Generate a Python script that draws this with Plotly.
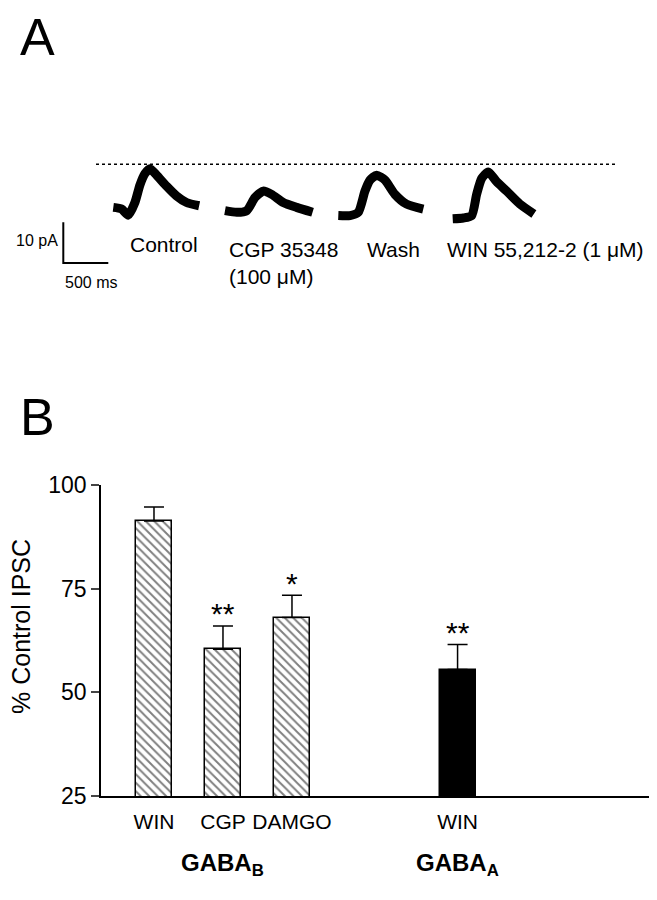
import plotly.graph_objects as go

W, H = 657, 900
FONT = "Liberation Sans, Arial, sans-serif"

# panel B data
categories = ["WIN", "CGP", "DAMGO", "WIN"]
pct_control = [91.3, 60.4, 68.0, 55.5]
sem = [3.4, 5.6, 5.4, 6.0]
signif = ["", "**", "*", "**"]
groups = ["GABA<sub>B</sub>", "GABA<sub>A</sub>"]

# panel A traces: time (ms from trace start) and current (pA, relative to dotted line)
control_t = [0, 93, 167, 240, 296, 352, 407, 481, 592, 703, 814, 954]
control_i = [-10.7, -11.1, -12.6, -9.5, -5.2, -2.4, -1.2, -2.8, -5.5, -7.9, -9.5, -10.3]
cgp_t = [0, 130, 241, 333, 425, 518, 647, 796, 973]
cgp_i = [-11.5, -11.9, -11.5, -8.3, -6.7, -7.5, -9.5, -10.7, -11.9]
wash_t = [0, 130, 222, 296, 352, 426, 518, 629, 759, 944]
wash_i = [-12.7, -12.7, -11.9, -6.7, -4.0, -2.8, -4.0, -7.5, -9.9, -11.1]
win_t = [0, 118, 211, 266, 322, 395, 488, 599, 747, 902]
win_i = [-13.5, -13.3, -12.7, -7.5, -3.6, -2.0, -4.4, -6.7, -9.9, -12.3]
scale_pa, scale_ms = 10, 500

# the page puts the figure 8px in from the top-left corner
OFF = 8

def px(x):
    return (x - OFF) / W

def py(y):
    return 1 - (y - OFF) / H

MS_PER_PX = 500 / 45.0
PA_PER_PX = 10 / 42.0
bar_x = [0, 1, 2, 4.4]
group_x = [1, 4.4]

fig = go.Figure()

# ---- panel B bars
fig.add_trace(go.Bar(
    x=bar_x[:3], y=pct_control[:3], width=0.52, base=0,
    marker=dict(color="white", line=dict(color="black", width=1.5),
                pattern=dict(shape="\\", fgcolor="black", bgcolor="white",
                             size=6, solidity=0.32)),
    error_y=dict(type="data", symmetric=False, array=sem[:3], arrayminus=[0] * 3,
                 color="black", thickness=1.5, width=10),
    showlegend=False, hoverinfo="skip"))
fig.add_trace(go.Bar(
    x=bar_x[3:], y=pct_control[3:], width=0.52, base=0,
    marker=dict(color="black", line=dict(color="black", width=1.5)),
    error_y=dict(type="data", symmetric=False, array=sem[3:], arrayminus=[0],
                 color="black", thickness=1.5, width=10),
    showlegend=False, hoverinfo="skip"))

for xv, m, e, s in zip(bar_x, pct_control, sem, signif):
    if s:
        fig.add_annotation(x=xv, y=m + e, xref="x", yref="y", text=s, showarrow=False,
                           xanchor="center", yanchor="middle", yshift=12,
                           font=dict(size=30, color="black"))

for gx, g in zip(group_x, groups):
    fig.add_annotation(x=gx, y=py(877), xref="x", yref="paper", text="<b>" + g + "</b>",
                       showarrow=False, xanchor="center", yanchor="middle",
                       font=dict(size=24, color="black"))

fig.add_annotation(x=px(21), y=py(632), xref="paper", yref="paper", text="% Control IPSC",
                   textangle=-90, showarrow=False, xanchor="center", yanchor="middle",
                   font=dict(size=25, color="black"))

# ---- panel A traces
starts_px = [113.3, 225.0, 338.3, 452.7]
for st, t, i in zip(starts_px, [control_t, cgp_t, wash_t, win_t],
                    [control_i, cgp_i, wash_i, win_i]):
    fig.add_trace(go.Scatter(
        x=[st * MS_PER_PX + v for v in t], y=i, xaxis="x2", yaxis="y2",
        mode="lines", line=dict(color="black", width=9, shape="spline", smoothing=0.6),
        showlegend=False, hoverinfo="skip"))

# scale bar
sx0 = 63.3 * MS_PER_PX
sy0 = -(257.3 - 155) * PA_PER_PX
fig.add_trace(go.Scatter(
    x=[sx0, sx0, sx0 + scale_ms], y=[sy0 + scale_pa, sy0, sy0],
    xaxis="x2", yaxis="y2", mode="lines", line=dict(color="black", width=2),
    showlegend=False, hoverinfo="skip"))

fig.add_shape(type="line", xref="paper", yref="paper", x0=px(96), x1=px(618),
              y0=py(155.5), y1=py(155.5), line=dict(color="black", width=1.5, dash="dot"))

labels_a = [
    ("Control", 128.3, 238),
    ("CGP 35348<br>(100 μM)", 226.7, 257.5),
    ("Wash", 365, 243),
    ("WIN 55,212-2 (1 μM)", 445, 243),
]
for txt, lx, ly in labels_a:
    fig.add_annotation(x=px(lx), y=py(ly), xref="paper", yref="paper", text=txt,
                       showarrow=False, xanchor="left", yanchor="middle", align="left",
                       font=dict(size=21, color="black"))

fig.add_annotation(x=px(60), y=py(234), xref="paper", yref="paper", text="10 pA",
                   showarrow=False, xanchor="right", yanchor="middle",
                   font=dict(size=16, color="black"))
fig.add_annotation(x=px(63), y=py(277), xref="paper", yref="paper", text="500 ms",
                   showarrow=False, xanchor="left", yanchor="middle",
                   font=dict(size=16, color="black"))

for lab, ly in [("A", 24), ("B", 416)]:
    fig.add_annotation(x=px(37.5), y=py(ly), xref="paper", yref="paper", text=lab,
                       showarrow=False, xanchor="center", yanchor="middle",
                       font=dict(size=52, color="black"))

fig.update_layout(
    width=W, height=H, margin=dict(l=0, r=0, t=0, b=0),
    paper_bgcolor="white", plot_bgcolor="white",
    font=dict(family=FONT, color="black"),
    bargap=0,
    xaxis=dict(domain=[px(101), px(652)], range=[-0.768, 7.218],
               tickvals=bar_x, ticktext=categories, ticks="outside", ticklen=6,
               tickcolor="rgba(0,0,0,0)", tickfont=dict(size=21),
               showline=True, linecolor="black", linewidth=1.5,
               showgrid=False, zeroline=False, fixedrange=True),
    yaxis=dict(domain=[py(806), py(485.7)], range=[25, 100],
               tickvals=[25, 50, 75, 100], ticks="outside", ticklen=8, tickwidth=1.5,
               tickfont=dict(size=23), showline=True, linecolor="black", linewidth=1.5,
               showgrid=False, zeroline=False, fixedrange=True),
    xaxis2=dict(domain=[0, 1], range=[OFF * MS_PER_PX, (W + OFF) * MS_PER_PX],
                anchor="y2", visible=False, fixedrange=True),
    yaxis2=dict(domain=[py(300), py(100)],
                range=[-(300 - 155) * PA_PER_PX, (155 - 100) * PA_PER_PX],
                anchor="x2", visible=False, fixedrange=True),
)

fig.write_html("out.html")
